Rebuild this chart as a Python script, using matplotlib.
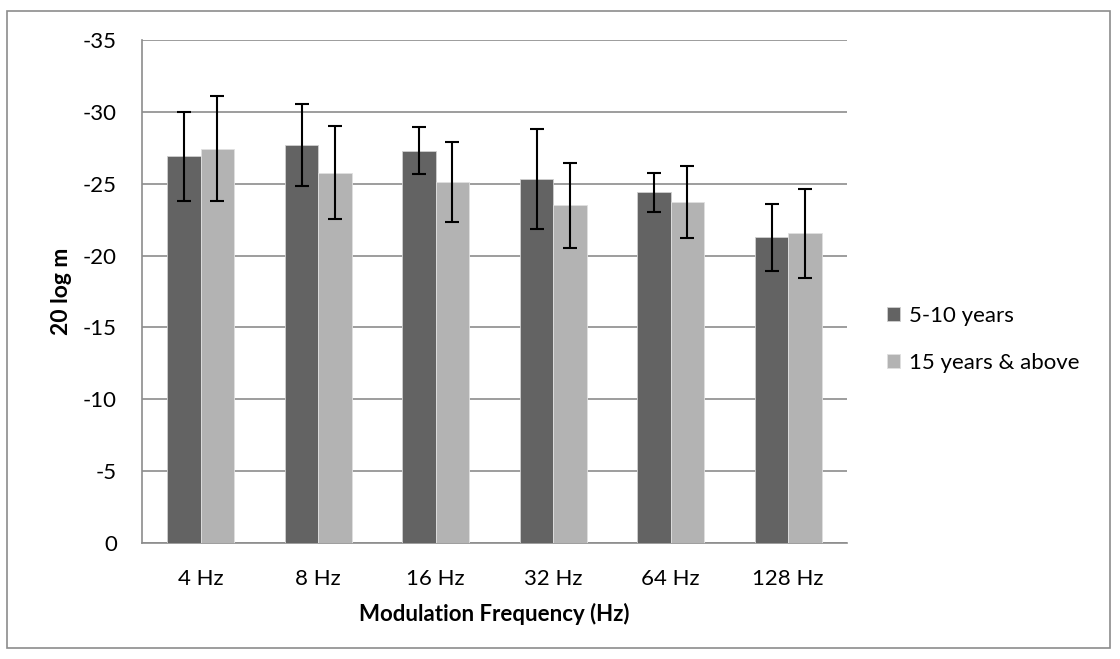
import numpy as np
import matplotlib.pyplot as plt
from matplotlib.patches import Rectangle

# dados
categorias = ['4 Hz', '8 Hz', '16 Hz', '32 Hz', '64 Hz', '128 Hz']
grupo_5_10 = [-26.9, -27.7, -27.3, -25.35, -24.4, -21.27]
erro_5_10 = [3.07, 2.87, 1.65, 3.47, 1.37, 2.35]
grupo_15 = [-27.45, -25.76, -25.14, -23.49, -23.75, -21.55]
erro_15 = [3.63, 3.25, 2.79, 2.94, 2.51, 3.1]
rotulos_y = [0, -5, -10, -15, -20, -25, -30, -35]

plt.rcParams['font.family'] = ['Lato', 'DejaVu Sans']

fig = plt.figure(figsize=(11.2, 6.59), dpi=100)
ax = fig.add_axes([142/1120, 1 - 543/659, 705/1120, 503/659])

# moldura externa do gráfico
fig.patches.append(Rectangle((7/1120, 11/659), 1103/1120, 637/659, transform=fig.transFigure,
                             fill=False, edgecolor='#8c8c8c', linewidth=1.2))

x = np.arange(len(categorias))
largura = 0.285
eb = dict(ecolor='black', elinewidth=1.5, capsize=5, capthick=1.5)
ax.bar(x - largura/2, grupo_5_10, largura, color='#636363', edgecolor='#d0d0d0', linewidth=0.6,
       yerr=erro_5_10, error_kw=eb, label='5-10 years', zorder=3)
ax.bar(x + largura/2, grupo_15, largura, color='#b3b3b3', edgecolor='#e0e0e0', linewidth=0.6,
       yerr=erro_15, error_kw=eb, label='15 years & above', zorder=3)

ax.set_ylim(0, -35)
ax.set_yticks(rotulos_y)
ax.set_yticklabels([str(v) for v in rotulos_y])
ax.set_xlim(-0.5, len(categorias) - 0.5)
ax.set_xticks(x)
ax.set_xticklabels(categorias)

ax.grid(axis='y', color='#8c8c8c', linewidth=1.2, zorder=0)
ax.set_axisbelow(True)
for lado in ['top', 'right']:
    ax.spines[lado].set_visible(False)
for lado in ['left', 'bottom']:
    ax.spines[lado].set_color('#8c8c8c')
    ax.spines[lado].set_linewidth(1.2)

ax.tick_params(axis='x', length=0, labelsize=16, pad=19)
ax.tick_params(axis='y', length=0, labelsize=16, pad=18)

ax.set_xlabel('Modulation Frequency (Hz)', fontsize=16, fontweight='bold', labelpad=10)
ax.set_ylabel('20 log m', fontsize=16.5, fontweight='bold', labelpad=8)

ax.legend(loc='center left', bbox_to_anchor=(1.028, 0.405), frameon=False, fontsize=16,
          handlelength=0.6, handleheight=0.6, handletextpad=0.4, labelspacing=1.2)

plt.savefig('out.png', dpi=100)
